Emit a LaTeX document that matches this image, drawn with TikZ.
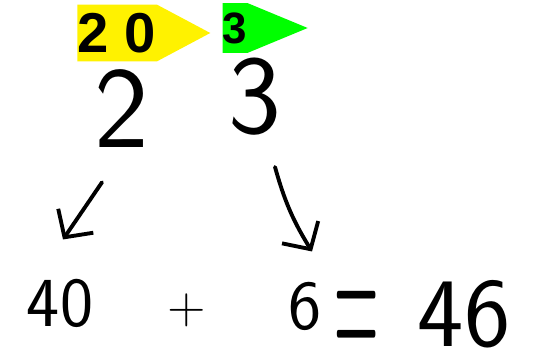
\documentclass[tikz,border=0pt]{standalone}
\usepackage{fontspec}
\newfontfamily\tagfont{Liberation Sans}
\usepackage{tikz}
\usetikzlibrary{arrows.meta,shapes.symbols}

\begin{document}
\begin{tikzpicture}[x=0.02cm, y=-0.02cm, every node/.style={inner sep=0pt},
  tag/.style={signal, signal to=east, font=\tagfont\bfseries\fontsize{32}{34}\selectfont},
  hand/.style={font=\sffamily\fontsize{66}{68}\selectfont},
  sum/.style={font=\sffamily\fontsize{40}{42}\selectfont},
  arr/.style={line width=2.2pt, line cap=round, -{Straight Barb[length=4mm, width=8.5mm]}}]
\useasboundingbox (0,0) rectangle (547,351);
% place-value tags
\node[tag, fill=yellow, minimum height=1.14cm, minimum width=2.66cm, signal pointer angle=56] (tens) at (117,33) {2 0};
\node[tag, fill=green, minimum height=1cm, minimum width=1.7cm, signal pointer angle=45, font=\tagfont\bfseries\fontsize{25}{27}\selectfont] (ones) at (235,28) {3};
% the number
\node[hand] (two) at (122,109) {2};
\node[hand, font=\sffamily\fontsize{64}{66}\selectfont] (three) at (255,97) {3};
% the sum
\node[sum] (forty) at (60,303) {40};
\node[sum, font=\sffamily\fontsize{30}{32}\selectfont] (plus) at (187,310) {+};
\node[sum] (six) at (305,306) {6};
\node[sum, font=\rmfamily\fontsize{125}{127}\selectfont] (eq) at (357,330) {\scalebox{0.28}[1]{=}};
\node[sum, font=\sffamily\fontsize{56}{58}\selectfont] (total) at (464,314) {46};
\draw[arr] ([shift={(-20,34)}]two.south) -- ([shift={(3,-39)}]forty.north);
\draw[arr] ([shift={(20,31)}]three.south) to[bend right=8] ([shift={(7,-30)}]six.north);
\end{tikzpicture}
\end{document}
